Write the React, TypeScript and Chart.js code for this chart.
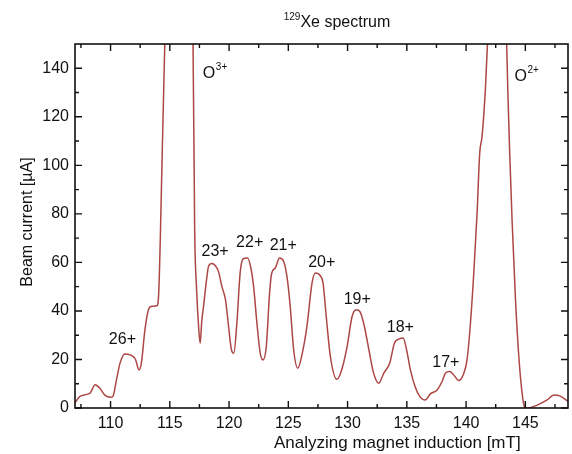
import React, { useEffect, useRef } from "react";
import { Chart, registerables } from "chart.js";

Chart.register(...registerables);

// Analyzing magnet induction [mT]
const FIELD_MT = [
  107.0, 107.4, 108.0, 108.3, 108.7, 109.1, 109.5, 110.0, 110.2, 110.5,
  110.8, 111.2, 111.65, 112.1, 112.4, 112.6, 112.9, 113.2, 113.5, 113.9,
  114.05, 114.2, 114.6, 115.8, 116.95, 117.1, 117.25, 117.45, 117.56, 117.7,
  117.85, 118.13, 118.27, 118.55, 118.83, 119.1, 119.4, 119.7, 119.96, 120.2,
  120.4, 120.66, 120.94, 121.2, 121.56, 121.84, 122.07, 122.35, 122.63, 122.86,
  123.14, 123.42, 123.6, 123.9, 124.26, 124.6, 124.88, 125.16, 125.45, 125.8,
  126.15, 126.57, 127.0, 127.28, 127.7, 127.93, 128.2, 128.55, 129.1, 129.5,
  129.96, 130.38, 130.74, 131.08, 131.42, 131.8, 132.2, 132.63, 133.05, 133.56,
  133.95, 134.32, 134.69, 135.0, 135.3, 135.7, 136.1, 136.56, 136.99, 137.55,
  137.97, 138.25, 138.62, 138.96, 139.38, 139.75, 140.08, 140.37, 140.65, 140.93,
  141.15, 141.35, 141.63, 141.85, 142.6, 143.4, 143.52, 143.69, 143.89, 144.17,
  144.45, 144.73, 144.93, 145.15, 146.0, 146.84, 147.4, 147.9, 148.6,
];

// Beam current [µA]
const CURRENT_UA = [
  2.2, 4.7, 5.6, 6.3, 9.6, 8.1, 5.4, 4.4, 4.8, 11.6,
  18.5, 22.3, 21.9, 20.1, 15.7, 18.5, 32.2, 40.5, 41.9, 42.1,
  46, 70, 155, 260, 155, 73, 50, 32, 26.7, 36,
  42, 54, 58.4, 59.5, 58.7, 56.3, 50, 44.6, 33.6, 24,
  22.6, 35, 56, 61.5, 61.8, 57.7, 50.1, 35, 22.6, 19.8,
  25.3, 47.4, 55.6, 57.7, 61.8, 60.5, 54.3, 41.9, 24, 16.4,
  21.9, 33.6, 51.5, 55.6, 54.5, 51.5, 37.7, 21.2, 11.8, 15.7,
  25.3, 37.7, 40.5, 39.4, 33.6, 24, 14.3, 10.2, 14.3, 18.5,
  26.7, 28.4, 28.8, 23.5, 15.7, 8.8, 4.7, 3.3, 5.8, 7.4,
  10.9, 14.3, 15.0, 13.6, 11.3, 13.6, 19.8, 35, 55.6, 80.4,
  105, 112, 131.4, 155, 260, 155, 131, 103.7, 76.3, 44.6,
  21.2, 6, 0.5, 0, 1.2, 3.3, 5.4, 5, 2.8,
];

const X_TICKS = [110, 115, 120, 125, 130, 135, 140, 145];
const X_MINOR = [107.5, 112.5, 117.5, 122.5, 127.5, 132.5, 137.5, 142.5, 147.5];
const Y_TICKS = [0, 20, 40, 60, 80, 100, 120, 140];
const Y_MINOR = [10, 30, 50, 70, 90, 110, 130];

const PEAK_LABELS = ["26+", "23+", "22+", "21+", "20+", "19+", "18+", "17+"];
const PEAK_LABEL_X = [111.0, 118.82, 121.74, 124.57, 127.82, 130.82, 134.45, 138.29];
const PEAK_LABEL_Y = [28.1, 64.5, 68.2, 66.9, 59.9, 44.6, 33.3, 18.6];

const OXY_BASE = ["O", "O"];
const OXY_SUP = ["3+", "2+"];
const OXY_X = [117.79, 144.08];
const OXY_Y = [137.6, 136.4];

const TITLE_SUP = "129";
const TITLE_MAIN = "Xe spectrum";
const X_TITLE = "Analyzing magnet induction [mT]";
const Y_TITLE = "Beam current [\u00B5A]";

const FONT = "'Liberation Sans', Arial, Helvetica, sans-serif";
const INK = "#111111";

const overlay = {
  id: "overlay",
  afterDraw(chart: any) {
    const { ctx, chartArea: a, scales } = chart;
    const xs = scales.x;
    const ys = scales.y;
    ctx.save();

    // frame
    ctx.strokeStyle = INK;
    ctx.lineWidth = 1.6;
    ctx.strokeRect(a.left, a.top, a.right - a.left, a.bottom - a.top);

    // inward ticks on all four sides
    ctx.lineWidth = 1.4;
    const xTick = (v: number, len: number) => {
      const px = xs.getPixelForValue(v);
      ctx.beginPath();
      ctx.moveTo(px, a.bottom);
      ctx.lineTo(px, a.bottom - len);
      ctx.moveTo(px, a.top);
      ctx.lineTo(px, a.top + len);
      ctx.stroke();
    };
    const yTick = (v: number, len: number) => {
      const py = ys.getPixelForValue(v);
      ctx.beginPath();
      ctx.moveTo(a.left, py);
      ctx.lineTo(a.left + len, py);
      ctx.moveTo(a.right, py);
      ctx.lineTo(a.right - len, py);
      ctx.stroke();
    };
    X_TICKS.forEach((v) => xTick(v, 7));
    X_MINOR.forEach((v) => xTick(v, 4));
    Y_TICKS.forEach((v) => yTick(v, 7));
    Y_MINOR.forEach((v) => yTick(v, 4));

    ctx.fillStyle = INK;

    // peak labels
    ctx.font = `16px ${FONT}`;
    ctx.textAlign = "center";
    ctx.textBaseline = "middle";
    PEAK_LABELS.forEach((t, i) => {
      ctx.fillText(t, xs.getPixelForValue(PEAK_LABEL_X[i]), ys.getPixelForValue(PEAK_LABEL_Y[i]));
    });

    // oxygen labels with superscripts
    OXY_BASE.forEach((t, i) => {
      const px = xs.getPixelForValue(OXY_X[i]);
      const py = ys.getPixelForValue(OXY_Y[i]);
      ctx.textAlign = "left";
      ctx.textBaseline = "middle";
      ctx.font = `16px ${FONT}`;
      ctx.fillText(t, px, py);
      const w = ctx.measureText(t).width;
      ctx.font = `10px ${FONT}`;
      ctx.fillText(OXY_SUP[i], px + w + 0.5, py - 7);
    });

    // title
    ctx.textBaseline = "alphabetic";
    ctx.textAlign = "left";
    ctx.font = `10px ${FONT}`;
    const supW = ctx.measureText(TITLE_SUP).width;
    ctx.font = `16px ${FONT}`;
    const mainW = ctx.measureText(TITLE_MAIN).width;
    const tx = 337 - (supW + mainW) / 2;
    ctx.font = `10px ${FONT}`;
    ctx.fillText(TITLE_SUP, tx, 20);
    ctx.font = `16px ${FONT}`;
    ctx.fillText(TITLE_MAIN, tx + supW, 27);

    // x title
    ctx.font = `17px ${FONT}`;
    ctx.fillText(X_TITLE, 274, 448);

    // y title
    ctx.translate(28, 222);
    ctx.rotate(-Math.PI / 2);
    ctx.textAlign = "center";
    ctx.textBaseline = "middle";
    ctx.font = `16px ${FONT}`;
    ctx.fillText(Y_TITLE, 0, 0);

    ctx.restore();
  },
};

export default function App() {
  const ref = useRef<HTMLCanvasElement | null>(null);

  useEffect(() => {
    if (!ref.current) return;
    const points = FIELD_MT.map((x, i) => ({ x, y: CURRENT_UA[i] }));
    const chart = new Chart(ref.current, {
      type: "line",
      data: {
        datasets: [
          {
            data: points,
            borderColor: "#ad4745",
            borderWidth: 1.5,
            pointRadius: 0,
            fill: false,
            cubicInterpolationMode: "monotone",
          },
        ],
      },
      options: {
        animation: false,
        responsive: false,
        maintainAspectRatio: false,
        layout: { padding: { top: 44, right: 4, left: 0, bottom: 0 } },
        plugins: {
          legend: { display: false },
          title: { display: false },
          tooltip: { enabled: false },
        },
        scales: {
          x: {
            type: "linear",
            min: 107,
            max: 148.6,
            grid: { display: false, drawTicks: false },
            border: { display: false },
            afterBuildTicks: (s: any) => {
              s.ticks = X_TICKS.map((v) => ({ value: v }));
            },
            afterFit: (s: any) => {
              s.height = 46;
            },
            ticks: {
              padding: 6,
              color: INK,
              maxRotation: 0,
              autoSkip: false,
              font: { family: FONT, size: 16 },
            },
          },
          y: {
            type: "linear",
            min: 0,
            max: 150,
            grid: { display: false, drawTicks: false },
            border: { display: false },
            afterBuildTicks: (s: any) => {
              s.ticks = Y_TICKS.map((v) => ({ value: v }));
            },
            afterFit: (s: any) => {
              s.width = 75;
            },
            ticks: {
              padding: 6,
              color: INK,
              autoSkip: false,
              font: { family: FONT, size: 16 },
            },
          },
        },
      },
      plugins: [overlay],
    });
    return () => chart.destroy();
  }, []);

  return (
    <div style={{ position: "fixed", left: 0, top: 0, width: 572, height: 454, background: "#fff" }}>
      <canvas ref={ref} width={572} height={454} style={{ display: "block" }} />
    </div>
  );
}
